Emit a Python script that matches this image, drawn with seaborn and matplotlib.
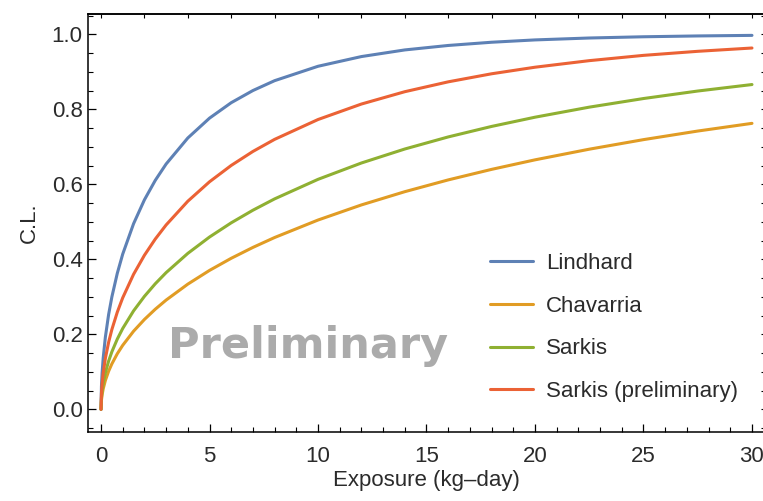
import matplotlib
matplotlib.use("Agg")
import matplotlib.pyplot as plt
from matplotlib.ticker import MultipleLocator, NullFormatter
import pandas as pd
import seaborn as sns

# Exposure grid (kg-day) and confidence level of each quenching model
exposure = [0, 0.02, 0.05, 0.1, 0.2, 0.35, 0.5, 0.75, 1, 1.5, 2, 2.5, 3, 4, 5, 6,
            7, 8, 10, 12, 14, 16, 18, 20, 22.5, 25, 27.5, 30]
lindhard = [0, 0.0613, 0.0969, 0.1367, 0.1924, 0.2527, 0.2997, 0.3627, 0.4139,
            0.4949, 0.5586, 0.6105, 0.6541, 0.7235, 0.7764, 0.8176, 0.8500, 0.8763,
            0.9147, 0.9406, 0.9583, 0.9702, 0.9788, 0.9850, 0.9901, 0.9934, 0.9956,
            0.9971]
chavarria = [0, 0.0243, 0.0385, 0.0544, 0.0768, 0.1015, 0.1212, 0.1482, 0.1707,
             0.2083, 0.2396, 0.2669, 0.2913, 0.3338, 0.3704, 0.4027, 0.4317, 0.4581,
             0.5047, 0.5450, 0.5803, 0.6117, 0.6398, 0.6652, 0.6936, 0.7191, 0.7420,
             0.7625]
sarkis = [0, 0.0309, 0.0488, 0.0690, 0.0974, 0.1286, 0.1534, 0.1873, 0.2156,
          0.2625, 0.3012, 0.3348, 0.3645, 0.4158, 0.4594, 0.4973, 0.5309, 0.5611,
          0.6132, 0.6568, 0.6941, 0.7263, 0.7543, 0.7789, 0.8057, 0.8287, 0.8487,
          0.8660]
sarkis_prelim = [0, 0.0431, 0.0680, 0.0961, 0.1356, 0.1787, 0.2128, 0.2591, 0.2974,
                 0.3600, 0.4108, 0.4540, 0.4916, 0.5549, 0.6067, 0.6503, 0.6876,
                 0.7198, 0.7727, 0.8140, 0.8469, 0.8732, 0.8947, 0.9122, 0.9297,
                 0.9438, 0.9546, 0.9634]

models = ["Lindhard", "Chavarria", "Sarkis", "Sarkis (preliminary)"]
series = [lindhard, chavarria, sarkis, sarkis_prelim]
colors = ["#5E81B5", "#E19C24", "#8FB032", "#EB6235"]

x_major = [0, 5, 10, 15, 20, 25, 30]
y_major = [0.0, 0.2, 0.4, 0.6, 0.8, 1.0]

df = pd.concat(
    [pd.DataFrame({"exposure": exposure, "cl": vals, "model": name})
     for name, vals in zip(models, series)],
    ignore_index=True,
)

sns.set_style("white")
plt.rcParams["font.family"] = ["Liberation Sans", "DejaVu Sans"]
text_color = "#2b2b2b"

fig = plt.figure(figsize=(7.63, 5.01), dpi=100)
ax = fig.add_axes([88 / 763, 69 / 501, 677 / 763, 418 / 501])

sns.lineplot(data=df, x="exposure", y="cl", hue="model", hue_order=models,
             palette=colors, linewidth=2.2, estimator=None, ax=ax)

ax.set_xlim(-0.6, 30.6)
ax.set_ylim(-0.0605, 1.0541)

ax.set_xticks(x_major)
ax.set_xticklabels([str(v) for v in x_major])
ax.set_yticks(y_major)
ax.set_yticklabels([f"{v:.1f}" for v in y_major])
ax.xaxis.set_minor_locator(MultipleLocator(1))
ax.yaxis.set_minor_locator(MultipleLocator(0.05))

ax.tick_params(which="both", direction="in", bottom=True, left=True,
               top=False, right=False, colors="black",
               labelcolor=text_color, labelsize=16)
ax.tick_params(which="major", length=5.8, width=0.9)
ax.tick_params(which="minor", length=3.4, width=0.8)
ax.tick_params(axis="x", which="major", pad=10.4)
ax.tick_params(axis="y", which="major", pad=3.8)

for sp in ax.spines.values():
    sp.set_color("black")
    sp.set_linewidth(1.1)

# Unlabelled frame ticks on the top and right edges
top = ax.secondary_xaxis("top")
top.xaxis.set_major_locator(MultipleLocator(2))
top.xaxis.set_major_formatter(NullFormatter())
top.xaxis.set_minor_locator(MultipleLocator(100))
top.tick_params(which="major", direction="in", top=True, bottom=False,
                length=3.0, width=0.8, colors="black", labeltop=False)
right = ax.secondary_yaxis("right")
right.yaxis.set_major_locator(MultipleLocator(0.05))
right.yaxis.set_major_formatter(NullFormatter())
right.yaxis.set_minor_locator(MultipleLocator(100))
right.tick_params(which="major", direction="in", right=True, left=False,
                  length=3.0, width=0.8, colors="black", labelright=False)
for sec in (top, right):
    for sp in sec.spines.values():
        sp.set_linewidth(1.1)
        sp.set_color("black")

ax.set_xlabel("Exposure (kg\u2013day)", fontsize=16, color=text_color)
ax.xaxis.set_label_coords(0.5, -0.092)
ax.set_ylabel("C.L.", fontsize=16, color=text_color)
ax.yaxis.set_label_coords(-0.071, 0.5)

handles, labels = ax.get_legend_handles_labels()
leg = ax.legend(handles, labels, frameon=False, loc="lower left",
                bbox_to_anchor=(0.594, 0.072), borderaxespad=0, borderpad=0,
                handlelength=1.95, handletextpad=0.55, labelspacing=0.97,
                fontsize=16)
for t in leg.get_texts():
    t.set_color(text_color)

ax.text(0.3257, 0.177, "Preliminary", transform=ax.transAxes, ha="center",
        va="baseline", fontsize=31, fontweight="bold", color="#ababab",
        family=["DejaVu Sans"])

fig.savefig("out.png", dpi=100)
